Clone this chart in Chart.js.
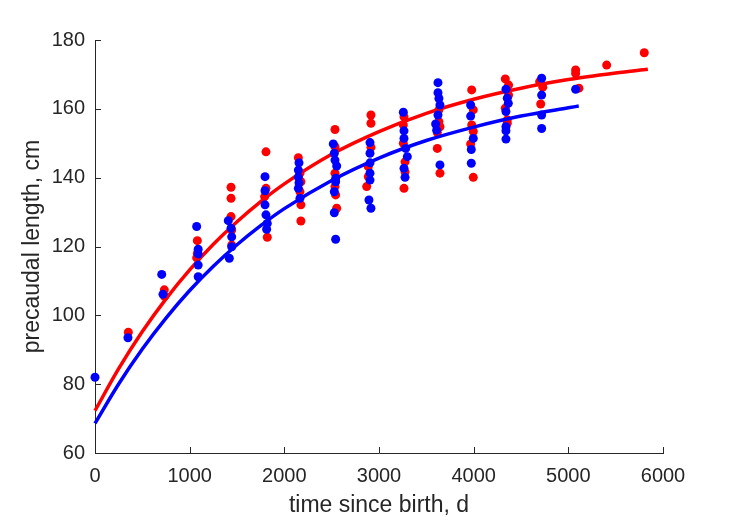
<!DOCTYPE html>
<html>
<head>
<meta charset="utf-8">
<script src="https://cdn.jsdelivr.net/npm/chart.js@4"></script>
<style>
  html, body { margin: 0; padding: 0; background: #ffffff; }
  #wrap { width: 729px; height: 521px; position: relative; }
</style>
</head>
<body>
<div id="wrap"><canvas id="c" width="729" height="521"></canvas></div>
<script>
// ---- data ----
const xTicks = [0, 1000, 2000, 3000, 4000, 5000, 6000];
const yTicks = [60, 80, 100, 120, 140, 160, 180];

// red observations (time since birth, d ; precaudal length, cm)
const redT = [352, 732, 735,
  1081, 1081, 1074,
  1437, 1437, 1437, 1444, 1444,
  1806, 1806, 1792, 1820,
  2148, 2165, 2175, 2165, 2175, 2175,
  2535, 2535, 2535, 2535, 2542, 2553,
  2915, 2915, 2915, 2887, 2887, 2870,
  3264, 3257, 3257, 3275, 3275, 3264,
  3633, 3633, 3644, 3616, 3616, 3644,
  3979, 3996, 3979, 3996, 3968, 3996,
  4334, 4369, 4369, 4334, 4355, 4355,
  4697, 4730, 4708,
  5077, 5077, 5112,
  5405, 5802];
const redL = [95.1, 107.4, 105.5,
  121.7, 118.0, 116.7,
  137.2, 134.0, 128.7, 124.8, 120.4,
  147.5, 136.9, 134.5, 122.7,
  145.8, 141.3, 138.8, 135.9, 132.1, 127.4,
  154.0, 149.0, 141.3, 137.4, 135.0, 131.1,
  158.2, 155.8, 148.8, 143.2, 140.3, 137.4,
  157.7, 155.3, 150.0, 144.6, 141.7, 136.9,
  159.7, 156.3, 154.8, 153.1, 148.5, 141.3,
  165.5, 159.7, 155.3, 153.4, 149.8, 140.1,
  168.7, 166.9, 164.0, 160.2, 156.8, 155.8,
  167.9, 166.3, 161.4,
  171.3, 170.3, 166.0,
  172.7, 176.3];

// blue observations
const blueT = [0, 348, 705, 718,
  1074, 1090, 1090, 1090, 1090,
  1408, 1437, 1444, 1444, 1419,
  1796, 1796, 1796, 1806, 1820, 1813,
  2155, 2148, 2148, 2155, 2148, 2165,
  2517, 2528, 2535, 2553, 2542, 2542, 2528, 2528, 2542,
  2905, 2905, 2905, 2905, 2905, 2894, 2915,
  3257, 3264, 3264, 3282, 3299, 3264, 3275,
  3623, 3623, 3633, 3644, 3623, 3598, 3609, 3644,
  3968, 3968, 3996, 3975, 3975,
  4341, 4355, 4366, 4341, 4341, 4341, 4341,
  4718, 4718, 4718, 4718,
  5077];
const blueL = [82.0, 93.5, 111.9, 106.1,
  125.8, 119.2, 117.8, 114.6, 111.2,
  127.5, 125.3, 122.8, 119.9, 116.6,
  140.3, 136.2, 132.1, 129.2, 126.7, 125.0,
  144.3, 142.2, 140.1, 138.5, 136.9, 134.0,
  149.8, 147.1, 145.1, 143.4, 139.8, 138.8, 135.9, 129.8, 122.1,
  150.2, 147.1, 144.3, 141.3, 139.3, 133.5, 131.1,
  159.0, 153.6, 151.4, 148.5, 146.1, 142.7, 140.1,
  167.6, 164.7, 163.0, 161.1, 158.2, 155.6, 153.8, 143.7,
  161.1, 157.9, 151.4, 148.2, 144.2,
  165.7, 163.1, 161.6, 159.2, 154.8, 153.6, 151.2,
  168.9, 164.0, 158.2, 154.3,
  165.7];

// fitted curves at these times
const redCurveT = [0, 250, 500, 750, 1000, 1250, 1500, 1750, 2000, 2500, 3000, 3500, 4000, 4500, 5000, 5500, 5840];
const redCurveL = [72.3, 84.5, 95.3, 104.8, 113.2, 120.65, 127.2, 133.05, 138.2, 146.8, 153.4, 158.7, 162.8, 166.0, 168.5, 170.4, 171.5];
const blueCurveT = [0, 250, 500, 750, 1000, 1250, 1500, 1750, 2000, 2500, 3000, 3500, 4000, 4500, 5000, 5110];
const blueCurveL = [68.6, 80.05, 90.2, 99.2, 107.2, 114.25, 120.5, 126.05, 131.0, 139.2, 145.7, 150.8, 154.7, 157.9, 160.3, 160.8];

const RED = '#ff0000';
const BLUE = '#0000ff';
const AXIS = '#262626';
const FONT = '"Liberation Sans", Arial, Helvetica, sans-serif';

const pts = (ts, ls) => ts.map((t, i) => ({ x: t, y: ls[i] }));

const inwardTicks = {
  id: 'inwardTicks',
  afterDraw(chart) {
    const { ctx, chartArea, scales } = chart;
    const len = 6;
    ctx.save();
    ctx.strokeStyle = AXIS;
    ctx.lineWidth = 1;
    ctx.beginPath();
    xTicks.forEach(v => {
      const px = Math.round(scales.x.getPixelForValue(v)) + 0.5;
      ctx.moveTo(px, chartArea.bottom);
      ctx.lineTo(px, chartArea.bottom - len);
    });
    yTicks.forEach(v => {
      const py = Math.round(scales.y.getPixelForValue(v)) + 0.5;
      ctx.moveTo(chartArea.left, py);
      ctx.lineTo(chartArea.left + len, py);
    });
    ctx.stroke();
    ctx.restore();
  }
};

new Chart(document.getElementById('c'), {
  type: 'scatter',
  data: {
    datasets: [
      { label: 'red data', data: pts(redT, redL), backgroundColor: RED, borderWidth: 0,
        pointRadius: 4.5, pointHoverRadius: 4.5, clip: false, order: 4 },
      { label: 'red fit', data: pts(redCurveT, redCurveL), showLine: true, borderColor: RED,
        borderWidth: 3.5, pointRadius: 0, cubicInterpolationMode: 'monotone', clip: false, order: 3 },
      { label: 'blue data', data: pts(blueT, blueL), backgroundColor: BLUE, borderWidth: 0,
        pointRadius: 4.5, pointHoverRadius: 4.5, clip: false, order: 2 },
      { label: 'blue fit', data: pts(blueCurveT, blueCurveL), showLine: true, borderColor: BLUE,
        borderWidth: 3.5, pointRadius: 0, cubicInterpolationMode: 'monotone', clip: false, order: 1 }
    ]
  },
  options: {
    responsive: false,
    animation: false,
    devicePixelRatio: 1,
    layout: { padding: { left: 0, right: 66, top: 40, bottom: 0 } },
    plugins: { legend: { display: false }, tooltip: { enabled: false } },
    scales: {
      x: {
        type: 'linear', min: 0, max: 6000,
        afterBuildTicks: s => { s.ticks = xTicks.map(v => ({ value: v })); },
        afterFit: s => { s.height = 68; },
        grid: { display: false, drawTicks: false },
        border: { display: true, color: AXIS, width: 1 },
        ticks: { color: AXIS, font: { family: FONT, size: 20 }, padding: 11, maxRotation: 0,
                 callback: v => String(v) },
        title: { display: true, text: 'time since birth, d', color: AXIS,
                 font: { family: FONT, size: 23 }, padding: { top: 0, bottom: 2 } }
      },
      y: {
        type: 'linear', min: 60, max: 180,
        afterBuildTicks: s => { s.ticks = yTicks.map(v => ({ value: v })); },
        afterFit: s => { s.width = 95; },
        grid: { display: false, drawTicks: false },
        border: { display: true, color: AXIS, width: 1 },
        ticks: { color: AXIS, font: { family: FONT, size: 20 }, padding: 10,
                 callback: v => String(v) },
        title: { display: true, text: 'precaudal length, cm', color: AXIS,
                 font: { family: FONT, size: 23 }, padding: { top: 19, bottom: 0 } }
      }
    }
  },
  plugins: [inwardTicks]
});
</script>
</body>
</html>
